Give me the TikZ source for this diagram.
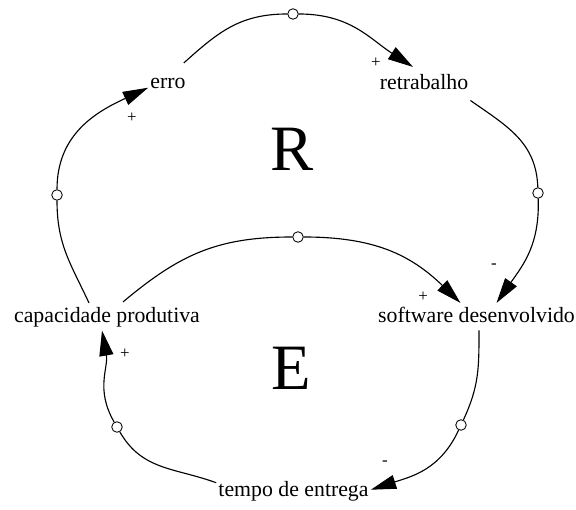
\documentclass[tikz,border=0pt]{standalone}
\usepackage{fontspec}
\setmainfont{Liberation Serif}
\usetikzlibrary{arrows.meta}

\begin{document}
\begin{tikzpicture}[x=0.025cm, y=0.025cm,
    var/.style={inner sep=0pt, text height=10.5pt, text depth=3pt, anchor=base, font=\fontsize{15.5}{18}\selectfont},
    valve/.style={circle, draw, fill=white, inner sep=0pt, minimum size=7.5pt, line width=0.6pt},
    link/.style={line width=0.8pt, looseness=1.05},
    arr/.style={link, -{Triangle[length=18pt, width=10pt]}},
    sign/.style={inner sep=0pt, font=\fontsize{12}{14}\selectfont},
    loopname/.style={anchor=base, font=\fontsize{46}{50}\selectfont}]
    \path[use as bounding box] (0,0) rectangle (576,510);

    % variaveis
    \node[var] (erro) at (168,421) {erro};
    \node[var] (retrab) at (424,420) {retrabalho};
    \node[var] (cap) at (107,187) {capacidade produtiva};
    \node[var] (soft) at (476.5,187) {software desenvolvido};
    \node[var] (tempo) at (293.5,13) {tempo de entrega};

    \node[loopname] (R) at (292.5,339) {R};
    \node[loopname] (E) at (291.5,120) {E};

    % valvulas
    \node[valve] (v1) at (293,496) {};
    \node[valve] (v2) at (538,317) {};
    \node[valve] (v3) at (298,273) {};
    \node[valve] (v4) at (461,85) {};
    \node[valve] (v5) at (117,83) {};
    \node[valve] (v6) at (57,315) {};

    % laco R
    \draw[link] ([shift={(-2,11)}]erro.north east) to[out=42,in=180] (v1);
    \draw[arr] (v1) to[out=0,in=147] ([shift={(-11,8)}]retrab.north);
    \draw[link] ([shift={(2,-6)}]retrab.south east) to[out=-35,in=92] (v2);
    \draw[arr] (v2) to[out=-88,in=55] ([shift={(20,5)}]soft.north);
    \draw[link] ([shift={(-18,5)}]cap.north) to[out=115,in=-90] (v6);
    \draw[arr] (v6) to[out=90,in=-155] ([shift={(-2,-4)}]erro.west);

    % laco E
    \draw[link] ([shift={(16,6)}]cap.north) to[out=40,in=180] (v3);
    \draw[arr] (v3) to[out=0,in=136] ([shift={(-16,5)}]soft.north);
    \draw[link] ([shift={(2.5,-3)}]soft.south) to[out=-90,in=65] (v4);
    \draw[arr] (v4) to[out=-115,in=18] ([shift={(2,2)}]tempo.east);
    \draw[link] ([shift={(-2,9)}]tempo.west) to[out=160,in=-60] (v5);
    \draw[arr] (v5) to[out=120,in=-80] ([shift={(-5,-3)}]cap.south);

    % sinais
    \node[sign] (s1) at (376,447) {+};
    \node[sign] (s2) at (132,392) {+};
    \node[sign] (s3) at (494,244) {-};
    \node[sign] (s4) at (423,213) {+};
    \node[sign] (s5) at (385,47) {-};
    \node[sign] (s6) at (125,156) {+};
\end{tikzpicture}
\end{document}
